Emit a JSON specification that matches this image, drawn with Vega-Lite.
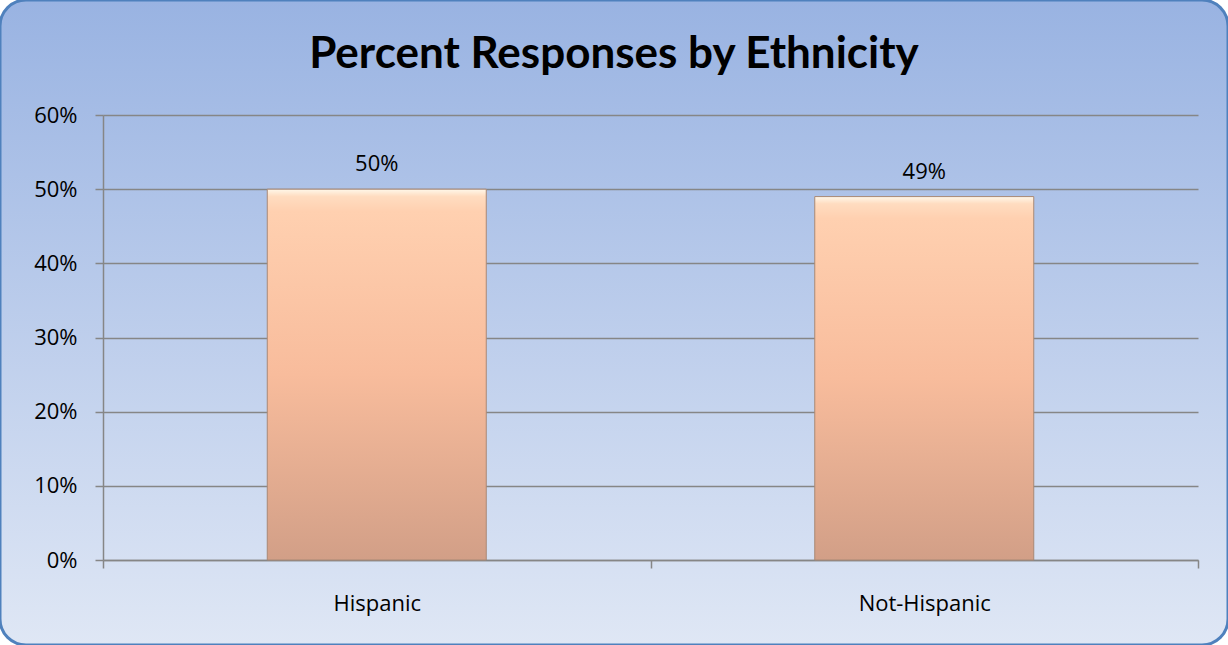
{
  "$schema": "https://vega.github.io/schema/vega-lite/v6.json",
  "width": 1228,
  "height": 645,
  "autosize": "none",
  "padding": 0,
  "background": "#ffffff",
  "title": {
    "text": "Percent Responses by Ethnicity",
    "font": "Lato",
    "fontSize": 44,
    "fontWeight": "bold",
    "color": "#000000",
    "anchor": "middle",
    "frame": "group",
    "baseline": "alphabetic",
    "offset": -112
  },
  "data": {
    "values": [
      {"ethnicity": "Hispanic", "percent": 0.50},
      {"ethnicity": "Not-Hispanic", "percent": 0.49}
    ]
  },
  "encoding": {
    "x": {
      "field": "ethnicity",
      "type": "nominal",
      "sort": null,
      "scale": {"range": [103, 1198], "paddingInner": 0, "paddingOuter": 0},
      "axis": {
        "title": null,
        "orient": "bottom",
        "offset": -85,
        "tickBand": "extent",
        "tickSize": 8,
        "tickColor": "#868686",
        "tickWidth": 1.5,
        "domainColor": "#868686",
        "domainWidth": 1.5,
        "labelAngle": 0,
        "labelBaseline": "alphabetic",
        "labelPadding": 42,
        "grid": false
      }
    },
    "y": {
      "field": "percent",
      "type": "quantitative",
      "scale": {"domain": [0, 0.6], "range": [560, 115], "nice": false, "zero": true},
      "axis": {
        "title": null,
        "orient": "left",
        "offset": -103,
        "values": [0, 0.1, 0.2, 0.3, 0.4, 0.5, 0.6],
        "format": ".0%",
        "tickSize": 8,
        "tickColor": "#868686",
        "tickWidth": 1.5,
        "domainColor": "#868686",
        "domainWidth": 1.5,
        "grid": true,
        "gridColor": "#868686",
        "gridWidth": 1.5,
        "labelPadding": 18,
        "labelBaseline": "middle"
      }
    }
  },
  "layer": [
    {
      "mark": {
        "type": "bar",
        "width": {"band": 0.4},
        "stroke": "#a98875",
        "strokeWidth": 1,
        "color": {
          "gradient": "linear",
          "x1": 0, "y1": 0, "x2": 0, "y2": 1,
          "stops": [
            {"offset": 0, "color": "#fff8ea"},
            {"offset": 0.02, "color": "#ffdcc0"},
            {"offset": 0.06, "color": "#ffd0b0"},
            {"offset": 0.5, "color": "#f8bc9c"},
            {"offset": 1, "color": "#d29f87"}
          ]
        }
      }
    },
    {
      "mark": {
        "type": "text",
        "baseline": "alphabetic",
        "dy": -18,
        "font": "Open Sans",
        "fontSize": 22,
        "color": "#000000"
      },
      "encoding": {
        "text": {"field": "percent", "type": "quantitative", "format": ".0%"}
      }
    }
  ],
  "config": {
    "axis": {
      "labelFont": "Open Sans",
      "labelFontSize": 22,
      "labelColor": "#000000"
    },
    "view": {
      "cornerRadius": 26,
      "stroke": "#4f81bd",
      "strokeWidth": 3,
      "fill": {
        "gradient": "linear",
        "x1": 0, "y1": 0, "x2": 0, "y2": 1,
        "stops": [
          {"offset": 0, "color": "#99b3e2"},
          {"offset": 1, "color": "#dfe7f5"}
        ]
      }
    }
  }
}
